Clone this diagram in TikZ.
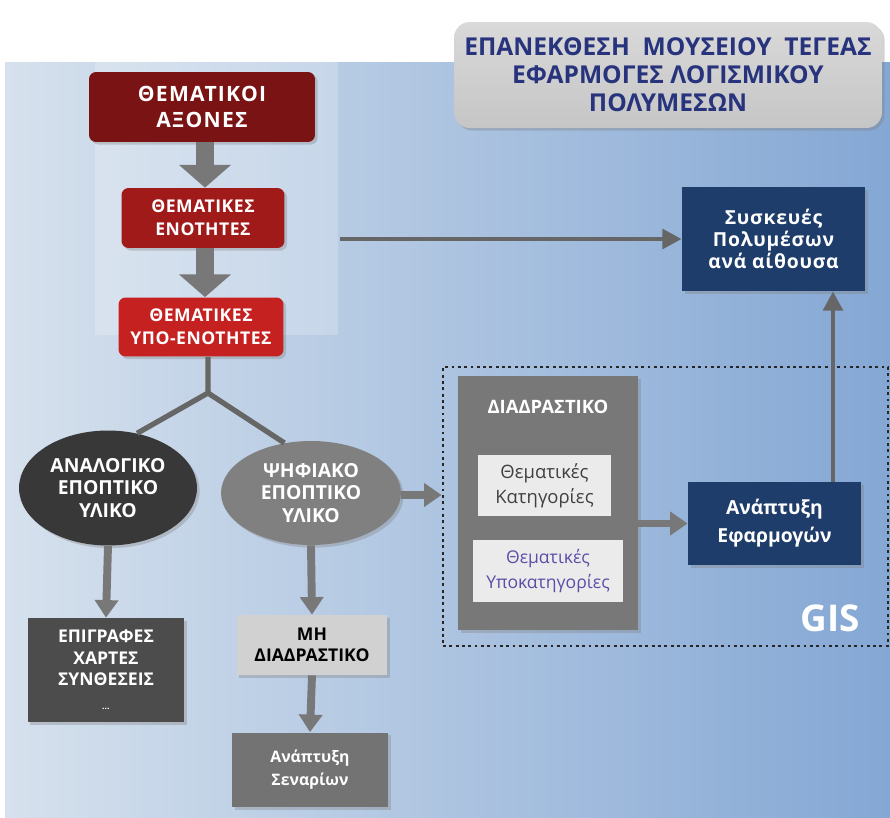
\documentclass[tikz,border=0pt]{standalone}
\usepackage{fontspec}
\setmainfont{Open Sans}
\usetikzlibrary{positioning,shapes.geometric,arrows.meta,shadows}
\definecolor{axisred}{HTML}{7A1313}
\definecolor{unitred}{HTML}{A11A1A}
\definecolor{subred}{HTML}{C52121}
\definecolor{navy}{HTML}{1F3D6B}
\definecolor{titleblue}{HTML}{27337C}
\definecolor{arrowgray}{HTML}{787878}
\definecolor{linegray}{HTML}{666666}
\definecolor{bgleft}{HTML}{D6E1ED}
\definecolor{bgmid}{HTML}{C4D5E9}
\definecolor{bgright}{HTML}{84A7D4}
\definecolor{purpletext}{HTML}{5A4EA6}
\tikzset{%
  box/.style={align=center,inner sep=0pt,text=white,
    drop shadow={shadow xshift=1.5pt,shadow yshift=-1.5pt,opacity=.35}},
  redbox/.style={box,rounded corners=4pt},
  oval/.style={box,ellipse},
  capsfont/.style={font=\fontsize{10}{12}\selectfont\bfseries},
  bigarrow/.style={draw=arrowgray,line width=10.5pt,-{Triangle[width=29pt,length=13pt]}},
  midarrow/.style={draw=arrowgray,line width=4.5pt,-{Triangle[width=13pt,length=10pt]}},
  thinarrow/.style={draw=linegray,line width=2.8pt,-{Triangle[width=11pt,length=11pt]}},
  branch/.style={draw=linegray,line width=3pt}
}

\begin{document}
\begin{tikzpicture}[x=0.02cm,y=-0.02cm]
  % page and background
  \fill[white] (0,0) rectangle (890,818);
  \shade[left color=bgleft,middle color=bgmid,right color=bgright] (5,62) rectangle (890,818);
  \fill[white,opacity=.22] (95,62) rectangle (338,335);

  % title
  \node[box,rounded corners=9pt,top color=gray!30,bottom color=gray!45,
        minimum width=8.56cm,minimum height=2.12cm,text=titleblue,
        font=\fontsize{14}{16}\selectfont\bfseries] (title) at (668,75)
    {ΕΠΑΝΕΚΘΕΣΗ\ \ ΜΟΥΣΕΙΟΥ\ \ ΤΕΓΕΑΣ\\ΕΦΑΡΜΟΓΕΣ ΛΟΓΙΣΜΙΚΟΥ\\ΠΟΛΥΜΕΣΩΝ};

  % thematic hierarchy
  \node[redbox,fill=axisred,minimum width=4.52cm,minimum height=1.4cm,
        font=\fontsize{12}{15}\selectfont\bfseries\addfontfeatures{LetterSpace=6}] (axes) at (202,107)
    {ΘΕΜΑΤΙΚΟΙ\\ΑΞΟΝΕΣ};
  \node[redbox,fill=unitred,minimum width=3.26cm,minimum height=1.2cm,
        font=\fontsize{10}{13}\selectfont\bfseries\addfontfeatures{LetterSpace=3}] (units) at (203,218)
    {ΘΕΜΑΤΙΚΕΣ\\ΕΝΟΤΗΤΕΣ};
  \node[redbox,fill=subred,minimum width=3.3cm,minimum height=1.18cm,
        font=\fontsize{10}{13}\selectfont\bfseries\addfontfeatures{LetterSpace=3}] (subunits) at (201,327)
    {ΘΕΜΑΤΙΚΕΣ\\ΥΠΟ-ΕΝΟΤΗΤΕΣ};
  \draw[bigarrow] (axes.south -| 205,0) -- (units.north -| 205,0);
  \draw[bigarrow] (units.south -| 205,0) -- (subunits.north -| 205,0);

  % material
  \node[oval,fill=black!78,minimum width=3.56cm,minimum height=2.3cm,
        font=\fontsize{11}{13}\selectfont\bfseries] (analog) at (108,488)
    {ΑΝΑΛΟΓΙΚΟ\\ΕΠΟΠΤΙΚΟ\\ΥΛΙΚΟ};
  \node[oval,fill=black!50,minimum width=3.6cm,minimum height=2.08cm,
        font=\fontsize{11}{13}\selectfont\bfseries] (digital) at (311,493)
    {ΨΗΦΙΑΚΟ\\ΕΠΟΠΤΙΚΟ\\ΥΛΙΚΟ};
  \coordinate (split) at (208,393);
  \draw[branch] (subunits.south -| split) -- (split) -- (analog.62);
  \draw[branch] (split) -- (digital.118);

  \node[box,fill=black!70,minimum width=3.14cm,minimum height=2.08cm,capsfont] (labels) at (106,670)
    {ΕΠΙΓΡΑΦΕΣ\\ΧΑΡΤΕΣ\\ΣΥΝΘΕΣΕΙΣ\\[2pt]{\tiny ...}};
  \node[box,fill=black!18,text=black,minimum width=3.02cm,minimum height=1.2cm,capsfont] (static) at (312,645)
    {ΜΗ\\ΔΙΑΔΡΑΣΤΙΚΟ};
  \node[box,fill=black!55,minimum width=3.12cm,minimum height=1.5cm,
        font=\fontsize{9}{13}\selectfont\bfseries] (scenario) at (310,770)
    {Ανάπτυξη\\Σεναρίων};
  \draw[midarrow] (analog.south) -- (labels.north);
  \draw[midarrow] (digital.south) -- (static.north);
  \draw[midarrow] (static.south) -- (scenario.north);

  % GIS part
  \node[draw=black!85,line width=1.6pt,dotted,minimum width=8.9cm,minimum height=5.58cm,inner sep=0pt] (gis) at (665.5,506.5) {};
  \node[box,fill=black!53,minimum width=3.6cm,minimum height=5.08cm] (interactive) at (548,503) {};
  \node[text=white,font=\fontsize{10.5}{12}\selectfont\bfseries] (intlabel) at (548,407) {ΔΙΑΔΡΑΣΤΙΚΟ};
  \node[fill=black!8,text=black!75,align=center,inner sep=0pt,minimum width=2.66cm,minimum height=1.22cm,
        font=\fontsize{10.5}{14}\selectfont] (categories) at (544.5,485.5)
    {Θεματικές\\Κατηγορίες};
  \node[fill=black!8,text=purpletext,align=center,inner sep=0pt,minimum width=3cm,minimum height=1.24cm,
        font=\fontsize{10}{14}\selectfont] (subcategories) at (548,571)
    {Θεματικές\\Υποκατηγορίες};
  \node[box,fill=navy,minimum width=3.46cm,minimum height=1.66cm,
        font=\fontsize{11}{16}\selectfont\bfseries] (apps) at (774.5,523.5)
    {Ανάπτυξη\\Εφαρμογών};
  \node[text=white,font=\fontsize{21}{21}\selectfont\bfseries] (gislabel) at (830,618) {GIS};
  \node[box,fill=navy,minimum width=3.66cm,minimum height=2.08cm,
        font=\fontsize{11}{12.5}\selectfont\bfseries\addfontfeatures{LetterSpace=4}] (devices) at (773.5,239)
    {Συσκευές\\Πολυμέσων\\ανά αίθουσα};

  \draw[midarrow] (digital.east |- 0,495) -- (gis.west |- 0,495);
  \draw[midarrow] (interactive.east |- apps.west) -- (apps.west);
  \draw[thinarrow] ([xshift=1.17cm]apps.north) -- ([xshift=1.17cm]apps.north |- devices.south);
  \coordinate (unitsout) at ([xshift=1.1cm]units.east |- devices.west);
  \draw[thinarrow] (unitsout) -- (devices.west);
\end{tikzpicture}
\end{document}
